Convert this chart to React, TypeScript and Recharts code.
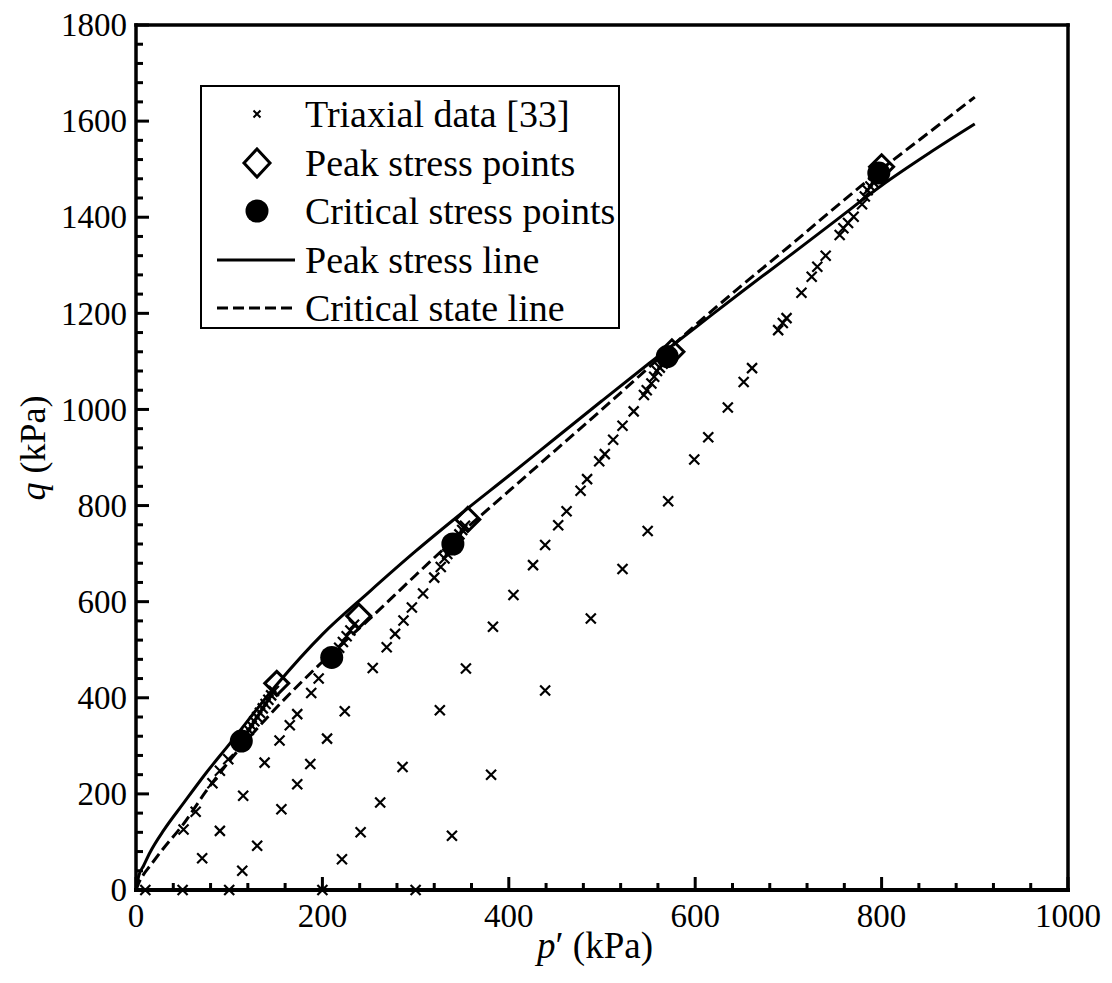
import { ComposedChart, XAxis, YAxis, Scatter, Line } from 'recharts';

const FONT = '"Liberation Serif", "Times New Roman", Times, serif';

// tick values (kPa)
const X_MAJOR = [0, 200, 400, 600, 800, 1000];
const Y_MAJOR = [0, 200, 400, 600, 800, 1000, 1200, 1400, 1600, 1800];
const X_TICKS = Array.from({ length: 26 }, (_, i) => i * 40);
const Y_TICKS = Array.from({ length: 46 }, (_, i) => i * 40);

// triaxial drained paths, grouped by initial p'
const TX_10 = [
  { p: 10, q: 0 }, { p: 51, q: 126 }, { p: 64, q: 163 }, { p: 82, q: 222 }, { p: 90, q: 248 },
  { p: 99, q: 272 }, { p: 118, q: 324 }, { p: 121, q: 333 }, { p: 124, q: 342 }, { p: 127, q: 351 },
  { p: 130, q: 360 }, { p: 133, q: 369 }, { p: 136, q: 378 }, { p: 139, q: 387 }, { p: 142, q: 396 },
  { p: 145, q: 405 }, { p: 148, q: 414 },
];
const TX_50 = [
  { p: 50, q: 0 }, { p: 71, q: 66 }, { p: 90, q: 123 }, { p: 115, q: 196 }, { p: 138, q: 265 },
  { p: 154, q: 311 }, { p: 165, q: 343 }, { p: 173, q: 366 }, { p: 188, q: 410 }, { p: 196, q: 440 },
  { p: 214, q: 492 }, { p: 218, q: 504 }, { p: 222, q: 516 }, { p: 226, q: 528 }, { p: 230, q: 540 },
  { p: 234, q: 552 },
];
const TX_100 = [
  { p: 100, q: 0 }, { p: 114, q: 40 }, { p: 130, q: 92 }, { p: 156, q: 168 }, { p: 173, q: 220 },
  { p: 187, q: 262 }, { p: 205, q: 315 }, { p: 224, q: 372 }, { p: 254, q: 462 }, { p: 269, q: 505 },
  { p: 278, q: 533 }, { p: 287, q: 561 }, { p: 296, q: 588 }, { p: 308, q: 617 }, { p: 320, q: 650 },
  { p: 327, q: 672 }, { p: 331, q: 690 }, { p: 334, q: 699 }, { p: 337, q: 708 }, { p: 344, q: 731 },
  { p: 347, q: 740 }, { p: 350, q: 749 }, { p: 353, q: 758 },
];
const TX_200 = [
  { p: 200, q: 0 }, { p: 221, q: 64 }, { p: 241, q: 120 }, { p: 262, q: 182 }, { p: 286, q: 256 },
  { p: 326, q: 374 }, { p: 354, q: 461 }, { p: 383, q: 548 }, { p: 405, q: 614 }, { p: 426, q: 676 },
  { p: 439, q: 718 }, { p: 453, q: 759 }, { p: 462, q: 788 }, { p: 477, q: 831 }, { p: 484, q: 855 },
  { p: 497, q: 892 }, { p: 503, q: 907 }, { p: 512, q: 937 }, { p: 522, q: 966 }, { p: 534, q: 996 },
  { p: 545, q: 1030 }, { p: 548, q: 1040 }, { p: 553, q: 1054 }, { p: 556, q: 1068 }, { p: 559, q: 1080 },
  { p: 562, q: 1087 }, { p: 565, q: 1095 }, { p: 568, q: 1104 }, { p: 572, q: 1114 },
];
const TX_300 = [
  { p: 300, q: 0 }, { p: 339, q: 113 }, { p: 381, q: 240 }, { p: 439, q: 415 }, { p: 488, q: 565 },
  { p: 522, q: 668 }, { p: 549, q: 747 }, { p: 571, q: 809 }, { p: 599, q: 896 }, { p: 614, q: 942 },
  { p: 635, q: 1004 }, { p: 652, q: 1057 }, { p: 661, q: 1086 }, { p: 689, q: 1165 }, { p: 694, q: 1180 },
  { p: 698, q: 1190 }, { p: 714, q: 1243 }, { p: 725, q: 1276 }, { p: 731, q: 1297 }, { p: 740, q: 1320 },
  { p: 755, q: 1363 }, { p: 759, q: 1377 }, { p: 764, q: 1388 }, { p: 770, q: 1401 }, { p: 779, q: 1427 },
  { p: 782, q: 1443 }, { p: 785, q: 1456 }, { p: 788, q: 1464 }, { p: 791, q: 1473 }, { p: 794, q: 1482 },
];
const TRIAXIAL = [...TX_10, ...TX_50, ...TX_100, ...TX_200, ...TX_300];

const PEAK_POINTS = [
  { p: 151, q: 430 }, { p: 239, q: 570 }, { p: 356, q: 771 }, { p: 575, q: 1120 }, { p: 800, q: 1505 },
];
const CRITICAL_POINTS = [
  { p: 113, q: 310 }, { p: 210, q: 484 }, { p: 340, q: 720 }, { p: 570, q: 1110 }, { p: 797, q: 1492 },
];

const PEAK_LINE = [
  { p: 0, q: 0 }, { p: 3, q: 30 }, { p: 8, q: 50 }, { p: 15, q: 78 }, { p: 30, q: 125 }, { p: 50, q: 178 },
  { p: 75, q: 243 }, { p: 100, q: 303 }, { p: 150, q: 425 }, { p: 200, q: 532 }, { p: 250, q: 620 },
  { p: 300, q: 705 }, { p: 350, q: 785 }, { p: 400, q: 862 }, { p: 450, q: 940 }, { p: 500, q: 1018 },
  { p: 550, q: 1095 }, { p: 600, q: 1170 }, { p: 650, q: 1245 }, { p: 700, q: 1318 }, { p: 750, q: 1392 },
  { p: 800, q: 1466 }, { p: 850, q: 1532 }, { p: 900, q: 1594 },
];
const CSL_LINE = [
  { p: 0, q: 0 }, { p: 3, q: 15 }, { p: 8, q: 32 }, { p: 15, q: 50 }, { p: 30, q: 88 }, { p: 50, q: 135 },
  { p: 75, q: 205 }, { p: 100, q: 268 }, { p: 150, q: 378 }, { p: 200, q: 475 }, { p: 250, q: 563 },
  { p: 300, q: 655 }, { p: 350, q: 745 }, { p: 400, q: 830 }, { p: 450, q: 915 }, { p: 500, q: 1000 },
  { p: 550, q: 1087 }, { p: 600, q: 1175 }, { p: 650, q: 1258 }, { p: 700, q: 1338 }, { p: 750, q: 1420 },
  { p: 800, q: 1500 }, { p: 850, q: 1575 }, { p: 900, q: 1650 },
];

const LEGEND = [
  { kind: 'cross', label: 'Triaxial data [33]' },
  { kind: 'diamond', label: 'Peak stress points' },
  { kind: 'circle', label: 'Critical stress points' },
  { kind: 'solid', label: 'Peak stress line' },
  { kind: 'dashed', label: 'Critical state line' },
];

const makeTick = (side: 'bottom' | 'top' | 'left' | 'right', majors: number[]) => (props: any) => {
  const { x, y, payload } = props;
  const v = payload.value as number;
  const major = majors.includes(v);
  const len = major ? 13 : 7;
  let x2 = x;
  let y2 = y;
  if (side === 'bottom') y2 = y - len;
  if (side === 'top') y2 = y + len;
  if (side === 'left') x2 = x + len;
  if (side === 'right') x2 = x - len;
  return (
    <g>
      <line x1={x} y1={y} x2={x2} y2={y2} stroke="#000" strokeWidth={3} />
      {major && side === 'bottom' && (
        <text x={x} y={y + 37} textAnchor="middle" fontSize={33} fontFamily={FONT} fill="#000">
          {v}
        </text>
      )}
      {major && side === 'left' && (
        <text x={x - 9} y={y} dy="0.34em" textAnchor="end" fontSize={33} fontFamily={FONT} fill="#000">
          {v}
        </text>
      )}
    </g>
  );
};

const Cross = (props: any) => {
  const { cx, cy } = props;
  const s = 5;
  return (
    <path
      d={`M${cx - s},${cy - s}L${cx + s},${cy + s}M${cx - s},${cy + s}L${cx + s},${cy - s}`}
      stroke="#000"
      strokeWidth={2.2}
      fill="none"
    />
  );
};

const Diamond = (props: any) => {
  const { cx, cy } = props;
  const s = 12;
  return (
    <path d={`M${cx},${cy - s}L${cx + s},${cy}L${cx},${cy + s}L${cx - s},${cy}Z`} stroke="#000" strokeWidth={3} fill="none" />
  );
};

const Dot = (props: any) => <circle cx={props.cx} cy={props.cy} r={11.5} fill="#000" />;

const axisLine = { stroke: '#000', strokeWidth: 3.5, strokeLinecap: 'square' as const };
const bottomAxisLine = { stroke: '#000', strokeWidth: 4, strokeLinecap: 'square' as const };

function LegendIcon({ kind }: { kind: string }) {
  return (
    <svg width={80} height={40} style={{ position: 'absolute', left: 15, top: 4 }}>
      {kind === 'cross' && <path d="M36.5,16.5L43.5,23.5M36.5,23.5L43.5,16.5" stroke="#000" strokeWidth={2} />}
      {kind === 'diamond' && <path d="M40,6L53,20L40,34L27,20Z" stroke="#000" strokeWidth={3} fill="none" />}
      {kind === 'circle' && <circle cx={40} cy={20} r={11.5} fill="#000" />}
      {kind === 'solid' && <line x1={0} y1={20} x2={78} y2={20} stroke="#000" strokeWidth={3} />}
      {kind === 'dashed' && (
        <line x1={0} y1={20} x2={78} y2={20} stroke="#000" strokeWidth={3} strokeDasharray="11 5" />
      )}
    </svg>
  );
}

export default function App() {
  return (
    <div style={{ position: 'absolute', left: 0, top: 0, width: 1112, height: 983, background: '#fff', fontFamily: FONT }}>
      <ComposedChart width={1112} height={983} margin={{ top: 24, right: 43, bottom: 92, left: 135 }}>
        <XAxis
          xAxisId="b"
          type="number"
          dataKey="p"
          domain={[0, 1000]}
          ticks={X_TICKS}
          interval={0}
          height={1}
          tickSize={0}
          tickMargin={0}
          tickLine={false}
          tick={makeTick('bottom', X_MAJOR)}
          axisLine={bottomAxisLine}
        />
        <XAxis
          xAxisId="t"
          orientation="top"
          type="number"
          domain={[0, 1000]}
          ticks={X_TICKS}
          interval={0}
          height={1}
          tickSize={0}
          tickMargin={0}
          tickLine={false}
          tick={makeTick('top', X_MAJOR)}
          axisLine={axisLine}
        />
        <YAxis
          yAxisId="l"
          type="number"
          dataKey="q"
          domain={[0, 1800]}
          ticks={Y_TICKS}
          interval={0}
          width={1}
          tickSize={0}
          tickMargin={0}
          tickLine={false}
          tick={makeTick('left', Y_MAJOR)}
          axisLine={axisLine}
        />
        <YAxis
          yAxisId="r"
          orientation="right"
          type="number"
          domain={[0, 1800]}
          ticks={Y_TICKS}
          interval={0}
          width={1}
          tickSize={0}
          tickMargin={0}
          tickLine={false}
          tick={makeTick('right', Y_MAJOR)}
          axisLine={axisLine}
        />
        <Line
          xAxisId="b"
          yAxisId="l"
          data={PEAK_LINE}
          dataKey="q"
          type="monotone"
          stroke="#000"
          strokeWidth={3}
          dot={false}
          isAnimationActive={false}
        />
        <Line
          xAxisId="b"
          yAxisId="l"
          data={CSL_LINE}
          dataKey="q"
          type="monotone"
          stroke="#000"
          strokeWidth={3}
          strokeDasharray="11 5"
          dot={false}
          isAnimationActive={false}
        />
        <Scatter xAxisId="b" yAxisId="l" data={TRIAXIAL} dataKey="q" shape={Cross} isAnimationActive={false} />
        <Scatter xAxisId="b" yAxisId="l" data={PEAK_POINTS} dataKey="q" shape={Diamond} isAnimationActive={false} />
        <Scatter xAxisId="b" yAxisId="l" data={CRITICAL_POINTS} dataKey="q" shape={Dot} isAnimationActive={false} />
      </ComposedChart>

      <div
        style={{
          position: 'absolute',
          left: 200,
          top: 85,
          width: 420,
          height: 244,
          border: '2px solid #000',
          boxSizing: 'border-box',
          background: '#fff',
        }}
      >
        {LEGEND.map((item, i) => (
          <div key={item.label} style={{ position: 'absolute', left: 0, top: 3 + i * 48.5, width: 416, height: 48 }}>
            <LegendIcon kind={item.kind} />
            <span
              style={{
                position: 'absolute',
                left: 103,
                top: 0,
                lineHeight: '48px',
                fontSize: 38,
                whiteSpace: 'nowrap',
                color: '#000',
              }}
            >
              {item.label}
            </span>
          </div>
        ))}
      </div>

      <div
        style={{
          position: 'absolute',
          left: 395,
          top: 927,
          width: 400,
          textAlign: 'center',
          fontSize: 37,
          lineHeight: '37px',
          color: '#000',
        }}
      >
        <i>p</i>′ (kPa)
      </div>
      <div
        style={{
          position: 'absolute',
          left: -67,
          top: 428,
          width: 200,
          height: 40,
          lineHeight: '40px',
          textAlign: 'center',
          fontSize: 36,
          color: '#000',
          transform: 'rotate(-90deg)',
        }}
      >
        <i>q</i> (kPa)
      </div>
    </div>
  );
}
